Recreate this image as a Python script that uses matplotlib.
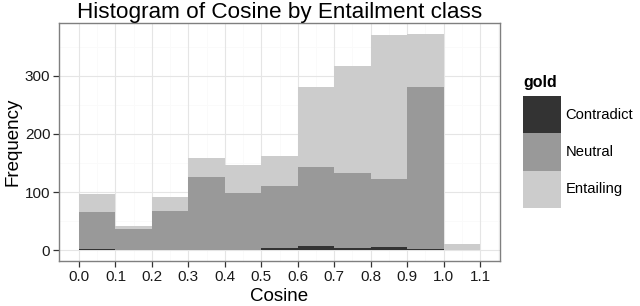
import matplotlib
matplotlib.use("Agg")
import matplotlib.pyplot as plt
import numpy as np

plt.rcParams['font.family'] = ['Liberation Sans', 'DejaVu Sans']

# bin left edges (width 0.1)
bins = [0.0, 0.1, 0.2, 0.3, 0.4, 0.5, 0.6, 0.7, 0.8, 0.9, 1.0]
contradict = [2, 1, 0, 0, 1, 3, 7, 4, 6, 2, 0]
neutral = [64, 36, 67, 125, 97, 107, 136, 129, 117, 279, 0]
entailing = [31, 5, 24, 33, 48, 52, 137, 184, 247, 91, 11]

classes = ["Contradict", "Neutral", "Entailing"]
colors = ["#333333", "#999999", "#cccccc"]

fig = plt.figure(figsize=(6.4, 3.06), dpi=100)
ax = fig.add_axes([59/640, 45/306, 441/640, 238/306])

# grid first (ggplot theme_bw)
ax.set_axisbelow(True)
for v in np.arange(0.05, 1.2, 0.1):
    ax.axvline(v, color="#fafafa", lw=0.6, zorder=0)
for v in [50, 150, 250, 350]:
    ax.axhline(v, color="#fafafa", lw=0.6, zorder=0)
for v in np.arange(0, 1.15, 0.1):
    ax.axvline(v, color="#e5e5e5", lw=0.8, zorder=0)
for v in [0, 100, 200, 300]:
    ax.axhline(v, color="#e5e5e5", lw=0.8, zorder=0)

bottom = np.zeros(len(bins))
handles = []
for name, vals, col in zip(classes, [contradict, neutral, entailing], colors):
    h = ax.bar(bins, vals, width=0.1, bottom=bottom, align="edge",
               color=col, edgecolor="none", linewidth=0, label=name, zorder=2)
    handles.append(h)
    bottom = bottom + np.array(vals)

ax.set_xlim(-0.055, 1.155)
ax.set_ylim(-18.6, 390.6)
ax.set_xticks(np.round(np.arange(0, 1.15, 0.1), 1))
ax.set_xticklabels(["%.1f" % v for v in np.arange(0, 1.15, 0.1)])
ax.set_yticks([0, 100, 200, 300])

for s in ax.spines.values():
    s.set_color("#7f7f7f")
    s.set_linewidth(1.0)
ax.tick_params(axis="both", length=4.3, width=0.9, color="#333333",
               labelsize=11, pad=2, labelcolor="#1a1a1a")

ax.set_xlabel("Cosine", fontsize=13.5, labelpad=3)
ax.set_ylabel("Frequency", fontsize=13.5, labelpad=2)
ax.set_title("Histogram of Cosine by Entailment class", fontsize=16.2, pad=2)

leg = fig.legend(handles=handles, labels=classes, loc="upper left",
                 bbox_to_anchor=(513/640, 1 - 86/306), frameon=False,
                 fontsize=10.6, handlelength=2.55,
                 handleheight=3.5, labelspacing=0, handletextpad=0.3,
                 borderpad=0.2)
fig.text(523/640, 1 - 83/306, "gold", fontsize=11.5, fontweight="bold",
         ha="left", va="center")

fig.savefig("out.png", dpi=100)
